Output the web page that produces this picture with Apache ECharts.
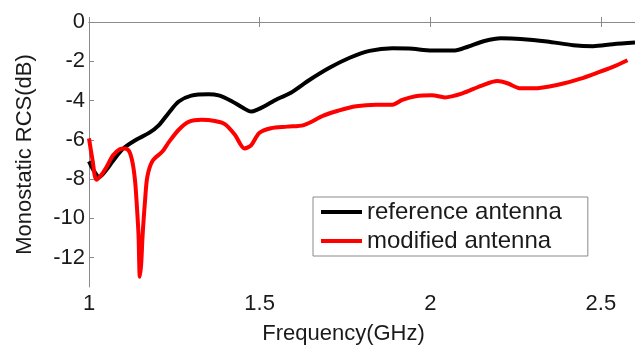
<!DOCTYPE html>
<html>
<head>
<meta charset="utf-8">
<script src="https://cdn.jsdelivr.net/npm/echarts@6/dist/echarts.min.js"></script>
<style>
	html, body { margin: 0; padding: 0; background: #fff; }
	#myRcsChart { width: 635px; height: 350px; }
</style>
</head>
<body>
<div id="myRcsChart"></div>
<script>
	// reference antenna (GHz / dB)
	var refFreq = [1.000, 1.015, 1.030, 1.050, 1.070, 1.100, 1.138, 1.176, 1.205, 1.234,
		1.263, 1.300, 1.350, 1.380, 1.417, 1.451, 1.475, 1.495, 1.514, 1.552,
		1.590, 1.648, 1.706, 1.764, 1.822, 1.889, 1.937, 2.005, 2.072, 2.110,
		2.159, 2.207, 2.265, 2.342, 2.419, 2.477, 2.535, 2.600];
	var refRcs = [-7.10, -7.60, -7.90, -7.55, -7.08, -6.45, -6.00, -5.65, -5.25, -4.62,
		-4.05, -3.75, -3.68, -3.74, -4.02, -4.37, -4.56, -4.45, -4.29, -3.92,
		-3.62, -2.93, -2.32, -1.82, -1.47, -1.34, -1.35, -1.45, -1.45, -1.26,
		-0.97, -0.83, -0.86, -0.99, -1.18, -1.23, -1.13, -1.05];
	// modified antenna (GHz / dB)
	var modFreq = [1.000, 1.010, 1.022, 1.036, 1.051, 1.070, 1.090, 1.105, 1.118, 1.128,
		1.135, 1.140, 1.145, 1.149, 1.153, 1.157, 1.164, 1.171, 1.186, 1.215,
		1.234, 1.263, 1.292, 1.330, 1.369, 1.398, 1.427, 1.456, 1.475, 1.499,
		1.533, 1.581, 1.629, 1.687, 1.730, 1.783, 1.841, 1.889, 1.918, 1.957,
		2.005, 2.043, 2.092, 2.149, 2.197, 2.226, 2.265, 2.303, 2.381, 2.438,
		2.496, 2.544, 2.578];
	var modRcs = [-5.93, -7.00, -8.04, -7.80, -7.40, -6.80, -6.48, -6.44, -6.60, -7.20,
		-8.10, -9.30, -10.8, -12.98, -12.3, -10.9, -9.15, -7.88, -7.08, -6.60,
		-6.12, -5.49, -5.09, -4.98, -5.04, -5.20, -5.73, -6.44, -6.28, -5.65,
		-5.41, -5.33, -5.25, -4.77, -4.52, -4.29, -4.21, -4.21, -3.97, -3.78,
		-3.73, -3.84, -3.65, -3.25, -3.01, -3.12, -3.38, -3.38, -3.17, -2.90,
		-2.54, -2.22, -1.95];
	var freqTicks = [1, 1.5, 2, 2.5];
	var rcsTicks = [0, -2, -4, -6, -8, -10, -12];

	function pairUp(xs, ys) {
		var out = [];
		for (var i = 0; i < xs.length; i++) {
			out.push([xs[i], ys[i]]);
		}
		return out;
	}

	var axisGray = '#8a8a8a';
	var textBlack = '#1a1a1a';

	var option = {
		animation: false,
		textStyle: {
			fontFamily: 'Liberation Sans, Arial, sans-serif'
		},
		grid: {
			left: 89,
			top: 22,
			bottom: 46,
			right: -8,
			show: false
		},
		legend: {
			orient: 'vertical',
			left: 313,
			top: 197,
			padding: [3, 26, 3, 8],
			itemGap: 5,
			itemWidth: 41,
			itemHeight: 4,
			icon: 'rect',
			borderColor: axisGray,
			borderWidth: 1,
			borderRadius: 0,
			backgroundColor: '#fff',
			textStyle: {
				fontSize: 24,
				lineHeight: 22,
				color: textBlack
			},
			data: ['reference antenna', 'modified antenna']
		},
		xAxis: [{
			type: 'value',
			min: 1,
			max: 2.6,
			name: 'Frequency(GHz)',
			nameLocation: 'middle',
			nameGap: 36,
			nameTextStyle: {
				fontSize: 22,
				color: textBlack,
				padding: [0, 37, 0, 0]
			},
			axisLine: { lineStyle: { color: axisGray, width: 1 } },
			axisTick: {
				inside: true,
				length: 5,
				customValues: freqTicks,
				lineStyle: { color: axisGray }
			},
			axisLabel: {
				fontSize: 22,
				color: textBlack,
				margin: 6,
				customValues: freqTicks
			},
			splitLine: { show: false }
		}, {
			type: 'value',
			position: 'top',
			min: 1,
			max: 2.6,
			axisLine: { lineStyle: { color: axisGray, width: 1 } },
			axisTick: {
				inside: true,
				length: 5,
				customValues: freqTicks,
				lineStyle: { color: axisGray }
			},
			axisLabel: { show: false },
			splitLine: { show: false }
		}],
		yAxis: {
			type: 'value',
			min: -13.5,
			max: 0,
			name: 'Monostatic RCS(dB)',
			nameLocation: 'middle',
			nameGap: 53,
			nameTextStyle: {
				fontSize: 22,
				color: textBlack
			},
			axisLine: { show: true, lineStyle: { color: axisGray, width: 1 } },
			axisTick: {
				show: true,
				inside: true,
				length: 5,
				customValues: rcsTicks,
				lineStyle: { color: axisGray }
			},
			axisLabel: {
				fontSize: 22,
				color: textBlack,
				margin: 4,
				customValues: rcsTicks
			},
			splitLine: { show: false }
		},
		series: [{
			name: 'reference antenna',
			type: 'line',
			xAxisIndex: 0,
			symbol: 'none',
			smooth: 0.3,
			color: '#000000',
			lineStyle: { width: 4, color: '#000000' },
			data: pairUp(refFreq, refRcs)
		}, {
			name: 'modified antenna',
			type: 'line',
			xAxisIndex: 0,
			symbol: 'none',
			smooth: 0.3,
			color: '#ff0000',
			lineStyle: { width: 4, color: '#ff0000' },
			data: pairUp(modFreq, modRcs)
		}]
	};

	var myChart = echarts.init(document.getElementById('myRcsChart'), null, { renderer: 'canvas' });
	myChart.setOption(option);
</script>
</body>
</html>
